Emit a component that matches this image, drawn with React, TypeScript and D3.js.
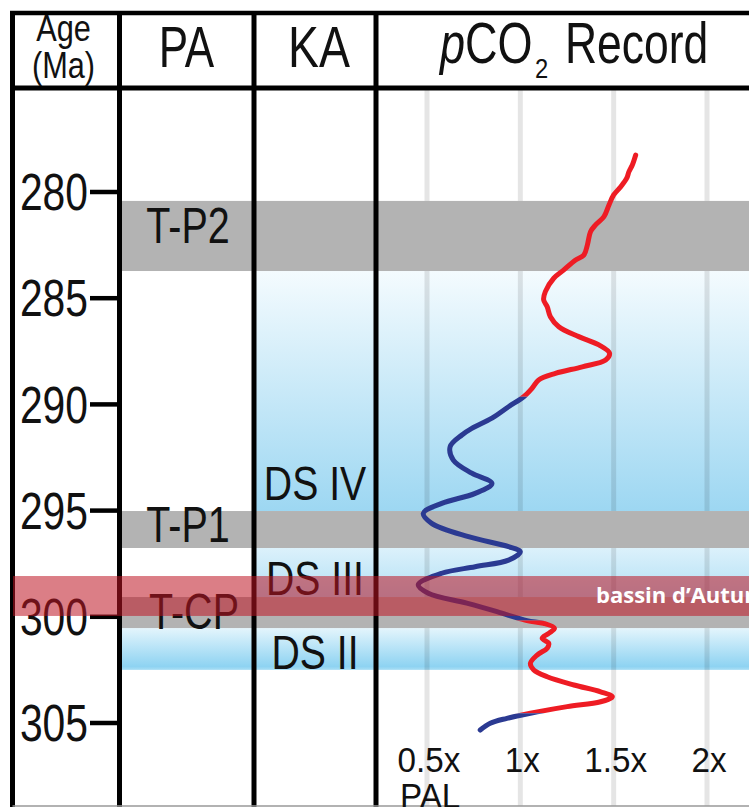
import React from "react";
import * as d3 from "d3";

// ---------- data ----------
const AGE_TICKS = [280, 285, 290, 295, 300, 305];
const PCO2_TICKS = [0.5, 1, 1.5, 2];
const PCO2_TICK_LABELS = ["0.5x", "1x", "1.5x", "2x"];

// pCO2 curve (age in Ma, pCO2 in multiples of PAL)
const curveAge = [
  278.26, 278.73, 279.04, 279.35, 279.75, 280.14, 280.61, 281.16, 281.55, 281.87,
  282.5, 282.97, 283.2, 283.67, 284.06, 284.69, 285.08, 285.4, 285.87, 286.34,
  286.81, 287.2, 287.59, 287.91, 288.23, 288.54, 288.85, 289.24, 289.64, 290.11,
  290.65, 291.13, 291.44, 291.99, 292.62, 293.24, 293.72, 294.19, 294.66, 295.13,
  295.6, 296.23, 296.7, 296.94, 297.33, 297.64, 297.95, 298.5, 298.89, 299.36,
  299.76, 300.18, 300.31, 300.54, 300.78, 301.01, 301.25, 301.48, 301.8, 302.19,
  302.5, 302.82, 303.21, 303.53, 303.76, 304.0, 304.23, 304.54, 304.78, 305.01,
  305.33,
];
const curvePco2 = [
  1.618, 1.6, 1.582, 1.57, 1.538, 1.5, 1.475, 1.448, 1.403, 1.376,
  1.359, 1.34, 1.296, 1.233, 1.179, 1.134, 1.125, 1.144, 1.161, 1.206,
  1.313, 1.421, 1.478, 1.457, 1.332, 1.188, 1.098, 1.063, 1.018, 0.937,
  0.848, 0.74, 0.687, 0.624, 0.641, 0.74, 0.848, 0.758, 0.579, 0.48,
  0.525, 0.722, 0.937, 1.0, 0.937, 0.758, 0.579, 0.453, 0.507, 0.713,
  0.875, 1.036, 1.125, 1.183, 1.152, 1.117, 1.152, 1.144, 1.09, 1.054,
  1.072, 1.144, 1.287, 1.43, 1.493, 1.43, 1.251, 1.054, 0.928, 0.839,
  0.785,
];
// colour changes of the curve (ages) and colour of each interval
const COLOR_BREAKS = [278, 289.64, 300.18, 304.54, 306];
const COLOR_SEQ = ["red", "blue", "red", "blue"];

// PA events (grey bands)
const PA_EVENTS = ["T-P2", "T-P1", "T-CP"];
const PA_START = [280.42, 295.02, 299.07];
const PA_END = [283.72, 296.76, 300.53];
const PA_LABEL_AGE = [281.55, 295.65, 299.75];

// KA depositional sequences (blue bands)
const KA_STAGES = ["DS IV", "DS III", "DS II"];
const KA_START = [283.72, 296.76, 300.53];
const KA_END = [295.02, 299.07, 302.5];
const KA_LABEL_AGE = [293.68, 298.15, 301.63];

// Autun basin interval
const AUTUN_RANGE = [298.08, 299.96];
const AUTUN_LABEL = "bassin d\u2019Autun";

// ---------- layout ----------
const W = 749;
const H = 807;
const FONT = "'Liberation Sans', Arial, Helvetica, sans-serif";
const X_FRAME = 12.5;
const X_AGE = 119.5;
const X_PA = 254;
const X_KA = 376;
const Y_TOP = 13;
const Y_HEAD = 88;
const Y_BOT = 806;

const RED = "#ee1c24";
const BLUE = "#2b3a92";

function CText({ x, y, F, s = 1, anchor = "start", fill = "#111", children, style }: any) {
  return (
    <text
      transform={`translate(${x},${y}) scale(${s},1)`}
      fontSize={F}
      textAnchor={anchor}
      fill={fill}
      fontFamily={FONT}
      style={style}
    >
      {children}
    </text>
  );
}

export default function App() {
  const y = d3.scaleLinear().domain([280, 305]).range([192, 723]);
  const x = d3.scaleLinear().domain([0.5, 2]).range([427, 707]);

  const pts: [number, number][] = curveAge.map((a, i) => [x(curvePco2[i]), y(a)]);
  const line = d3.line().curve(d3.curveCatmullRom.alpha(0.5));
  const pathD = line(pts) || "";

  const cap = (F: number) => 0.716 * F / 2;

  return (
    <svg
      width={W}
      height={H}
      style={{ position: "absolute", left: 0, top: 0, background: "#fff" }}
    >
      <defs>
        <linearGradient id="gDS4" x1="0" y1="0" x2="0" y2="1">
          <stop offset="0" stopColor="#f4fbfe" />
          <stop offset="1" stopColor="#9dd7f2" />
        </linearGradient>
        <linearGradient id="gDS3" x1="0" y1="0" x2="0" y2="1">
          <stop offset="0" stopColor="#dcf1fb" />
          <stop offset="1" stopColor="#b2e0f5" />
        </linearGradient>
        <linearGradient id="gDS2" x1="0" y1="0" x2="0" y2="1">
          <stop offset="0" stopColor="#e4f5fc" />
          <stop offset="0.92" stopColor="#8ed3f2" />
          <stop offset="1" stopColor="#a9def5" />
        </linearGradient>
        {COLOR_SEQ.map((c, i) => (
          <clipPath id={`clipSeg${i}`} key={i}>
            <rect x={0} width={W} y={y(COLOR_BREAKS[i])} height={y(COLOR_BREAKS[i + 1]) - y(COLOR_BREAKS[i])} />
          </clipPath>
        ))}
      </defs>

      <rect x={0} y={0} width={W} height={H} fill="#fff" />

      {/* blue depositional sequences */}
      {KA_STAGES.map((s, i) => {
        const gid = ["gDS4", "gDS3", "gDS2"][i];
        const x0 = i === 2 ? X_AGE : X_PA;
        return (
          <rect
            key={s}
            x={x0}
            y={y(KA_START[i])}
            width={W - x0}
            height={y(KA_END[i]) - y(KA_START[i])}
            fill={`url(#${gid})`}
          />
        );
      })}

      {/* grid lines */}
      {PCO2_TICKS.map((t) => (
        <line key={t} x1={x(t)} x2={x(t)} y1={Y_HEAD} y2={Y_BOT} stroke="rgba(0,0,0,0.1)" strokeWidth={5} />
      ))}

      {/* grey PA bands */}
      {PA_EVENTS.map((e, i) => (
        <rect key={e} x={X_AGE} y={y(PA_START[i])} width={W - X_AGE} height={y(PA_END[i]) - y(PA_START[i])} fill="#b3b3b3" />
      ))}

      {/* PA labels */}
      {PA_EVENTS.map((e, i) => (
        <CText key={e} x={i === 2 ? 194 : 188} y={y(PA_LABEL_AGE[i]) + cap(50)} F={50} s={0.79} anchor="middle">
          {e}
        </CText>
      ))}
      {/* KA labels */}
      {KA_STAGES.map((s, i) => (
        <CText key={s} x={315} y={y(KA_LABEL_AGE[i]) + cap(49)} F={49} s={0.8} anchor="middle">
          {s}
        </CText>
      ))}

      {/* pCO2 curve */}
      {COLOR_SEQ.map((c, i) => (
        <path
          key={i}
          d={pathD}
          fill="none"
          stroke={c === "red" ? RED : BLUE}
          strokeWidth={5}
          strokeLinecap="round"
          strokeLinejoin="round"
          clipPath={`url(#clipSeg${i})`}
        />
      ))}

      {/* frame lines */}
      <line x1={X_FRAME - 2.5} x2={W} y1={Y_TOP} y2={Y_TOP} stroke="#000" strokeWidth={4.5} />
      <line x1={X_FRAME - 2.5} x2={W} y1={Y_HEAD} y2={Y_HEAD} stroke="#000" strokeWidth={5} />
      {[X_FRAME, X_AGE, X_PA, X_KA].map((xx) => (
        <line key={xx} x1={xx} x2={xx} y1={Y_TOP - 2} y2={H} stroke="#000" strokeWidth={5} />
      ))}
      <line x1={X_FRAME} x2={W} y1={Y_BOT} y2={Y_BOT} stroke="#999" strokeWidth={1.5} />

      {/* age axis */}
      {AGE_TICKS.map((t) => (
        <g key={t}>
          <line x1={90} x2={X_AGE} y1={y(t)} y2={y(t)} stroke="#000" strokeWidth={4.5} />
          <CText x={88} y={y(t) + cap(51)} F={51} s={0.8} anchor="end">
            {t}
          </CText>
        </g>
      ))}

      {/* pCO2 axis labels */}
      {PCO2_TICKS.map((t, i) => (
        <CText key={t} x={x(t) + 2} y={772} F={35} s={0.95} anchor="middle">
          {PCO2_TICK_LABELS[i]}
        </CText>
      ))}
      <CText x={400} y={808} F={35} s={0.95}>
        PAL
      </CText>

      {/* headers */}
      <CText x={63.5} y={41} F={37} s={0.83} anchor="middle">Age</CText>
      <CText x={63.5} y={78} F={37} s={0.83} anchor="middle">(Ma)</CText>
      <CText x={186.5} y={67} F={58} s={0.76} anchor="middle">PA</CText>
      <CText x={319} y={67} F={58} s={0.8} anchor="middle">KA</CText>
      <CText x={440} y={63} F={57} s={0.79}>
        <tspan fontStyle="italic">p</tspan>CO
      </CText>
      <CText x={535} y={78} F={28} s={0.85}>2</CText>
      <CText x={565} y={63} F={57} s={0.78}>Record</CText>

      {/* Autun basin band */}
      <rect
        x={13}
        y={y(AUTUN_RANGE[0])}
        width={W - 13}
        height={y(AUTUN_RANGE[1]) - y(AUTUN_RANGE[0])}
        fill="rgba(190,20,35,0.55)"
      />
      <text
        x={596}
        y={(y(AUTUN_RANGE[0]) + y(AUTUN_RANGE[1])) / 2 + 7.5}
        fill="#fff"
        fontSize={22}
        fontWeight="bold"
        fontFamily="'Open Sans', 'Noto Sans', sans-serif"
      >
        {AUTUN_LABEL}
      </text>
    </svg>
  );
}
